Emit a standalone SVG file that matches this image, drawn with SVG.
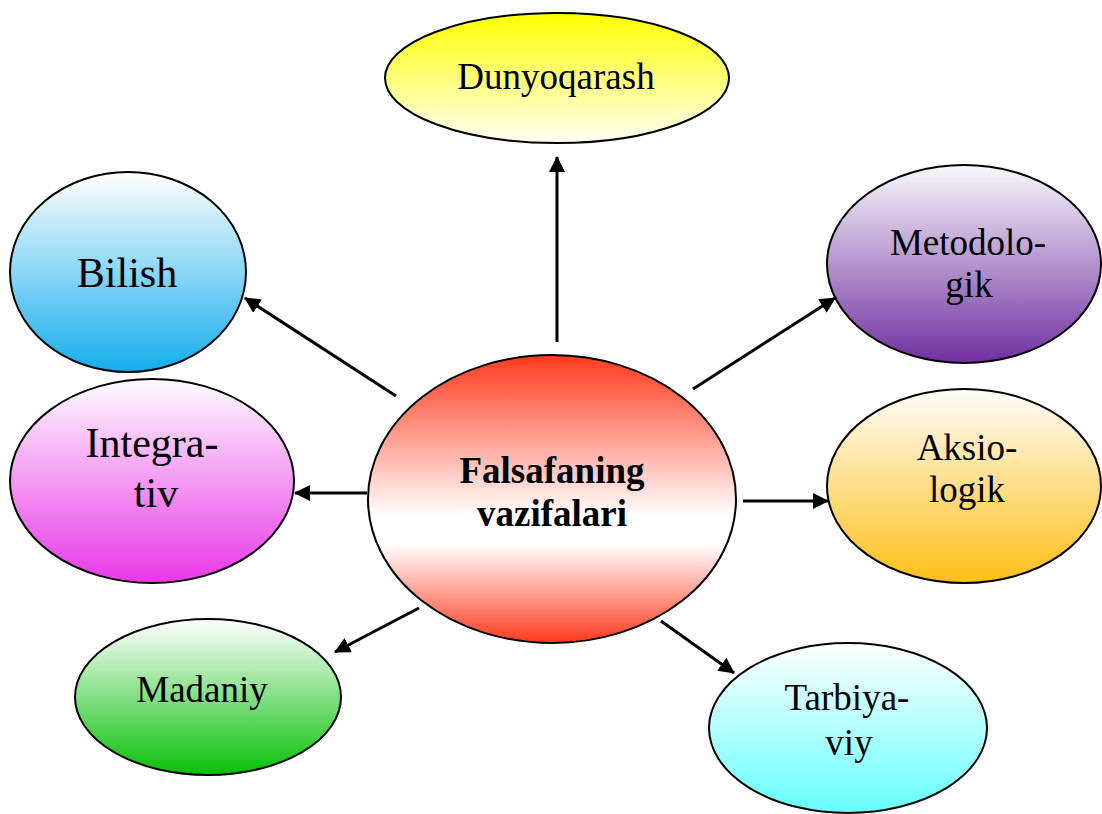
<svg xmlns="http://www.w3.org/2000/svg" width="1102" height="814" viewBox="0 0 1102 814">
<style>
.node{stroke:#000;stroke-width:2}
.t{font-family:"Liberation Serif","Times New Roman",serif;font-size:37px;fill:#000;text-anchor:middle}
.big{font-size:42px}
.b{font-weight:bold}
.c{stroke:#000;stroke-width:3;fill:none;marker-end:url(#ah)}
</style>
<defs>
<marker id="ah" markerUnits="userSpaceOnUse" markerWidth="16" markerHeight="16" refX="15" refY="8" orient="auto">
<path d="M0,0 L16,8 L0,16 z" fill="#000"/>
</marker>
<linearGradient id="gRed" x1="0" y1="0" x2="0" y2="1">
<stop offset="0" stop-color="#ff3a1e"/><stop offset="0.56" stop-color="#ffffff"/><stop offset="0.66" stop-color="#ffffff"/><stop offset="1" stop-color="#ff3a1e"/>
</linearGradient>
<linearGradient id="gYel" x1="0" y1="0" x2="0" y2="1">
<stop offset="0" stop-color="#ffff00"/><stop offset="1" stop-color="#fffff4"/>
</linearGradient>
<linearGradient id="gBlue" x1="0" y1="0" x2="0" y2="1">
<stop offset="0" stop-color="#ffffff"/><stop offset="1" stop-color="#14adec"/>
</linearGradient>
<linearGradient id="gMag" x1="0" y1="0" x2="0" y2="1">
<stop offset="0" stop-color="#fffcff"/><stop offset="1" stop-color="#e838e6"/>
</linearGradient>
<linearGradient id="gPur" x1="0" y1="0" x2="0" y2="1">
<stop offset="0" stop-color="#f8f8fb"/><stop offset="1" stop-color="#7030a0"/>
</linearGradient>
<linearGradient id="gGold" x1="0" y1="0" x2="0" y2="1">
<stop offset="0" stop-color="#fffdfb"/><stop offset="1" stop-color="#ffbf18"/>
</linearGradient>
<linearGradient id="gGreen" x1="0" y1="0" x2="0" y2="1">
<stop offset="0" stop-color="#ffffff"/><stop offset="1" stop-color="#08c008"/>
</linearGradient>
<linearGradient id="gCyan" x1="0" y1="0" x2="0" y2="1">
<stop offset="0" stop-color="#ffffff"/><stop offset="1" stop-color="#66ffff"/>
</linearGradient>
</defs>
<rect width="1102" height="814" fill="#fff"/>
<g id="connectors">
<line class="c" x1="557" y1="342" x2="557" y2="157"/>
<line class="c" x1="396" y1="396" x2="245" y2="298"/>
<line class="c" x1="367" y1="493" x2="295" y2="493"/>
<line class="c" x1="693" y1="389" x2="835" y2="298"/>
<line class="c" x1="743" y1="501" x2="828" y2="501"/>
<line class="c" x1="419" y1="608" x2="335" y2="652"/>
<line class="c" x1="661" y1="621" x2="734" y2="673"/>
</g>
<g id="center">
<ellipse class="node" cx="552" cy="499" rx="184" ry="144" fill="url(#gRed)"/>
<text class="t b" x="552" y="483">Falsafaning</text>
<text class="t b" x="552" y="526">vazifalari</text>
</g>
<g id="dunyoqarash">
<ellipse class="node" cx="557" cy="78" rx="172" ry="65" fill="url(#gYel)"/>
<text class="t" x="556" y="89">Dunyoqarash</text>
</g>
<g id="bilish">
<ellipse class="node" cx="128" cy="272" rx="118" ry="100" fill="url(#gBlue)"/>
<text class="t big" x="127" y="287">Bilish</text>
</g>
<g id="integrativ">
<ellipse class="node" cx="152" cy="481" rx="142" ry="102" fill="url(#gMag)"/>
<text class="t big" x="152" y="457">Integra-</text>
<text class="t big" x="156" y="507">tiv</text>
</g>
<g id="metodologik">
<ellipse class="node" cx="964" cy="264" rx="137" ry="99" fill="url(#gPur)"/>
<text class="t" x="968" y="255">Metodolo-</text>
<text class="t" x="969" y="297">gik</text>
</g>
<g id="aksiologik">
<ellipse class="node" cx="964" cy="486" rx="137" ry="97" fill="url(#gGold)"/>
<text class="t" x="967" y="460">Aksio-</text>
<text class="t" x="967" y="502">logik</text>
</g>
<g id="madaniy">
<ellipse class="node" cx="208" cy="697" rx="133" ry="78" fill="url(#gGreen)"/>
<text class="t" x="202" y="702">Madaniy</text>
</g>
<g id="tarbiyaviy">
<ellipse class="node" cx="848" cy="728" rx="139" ry="85" fill="url(#gCyan)"/>
<text class="t" x="847" y="710">Tarbiya-</text>
<text class="t" x="849" y="755">viy</text>
</g>
</svg>
